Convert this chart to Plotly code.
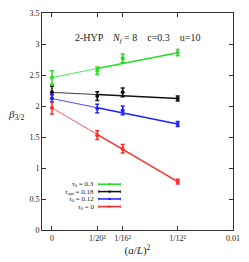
import plotly.graph_objects as go

# x positions: (a/L)^2
x_pts = [0.0, 1/20**2, 1/16**2, 1/12**2]
tick_vals = [0.0, 1/20**2, 1/16**2, 1/12**2, 0.01]
tick_text = ["0", "1/20²", "1/16²", "1/12²", "0.01"]
y_ticks = [0, 0.5, 1, 1.5, 2, 2.5, 3, 3.5]
y_tick_text = ["0", "0.5", "1", "1.5", "2", "2.5", "3", "3.5"]

names = ["<i>τ</i><sub>0</sub> = 0.3", "<i>τ</i><sub>opt</sub> = 0.18",
         "<i>τ</i><sub>0</sub> = 0.12", "<i>τ</i><sub>0</sub> = 0"]
colors = ["#22dd22", "#111111", "#2020ff", "#ff2a2a"]

# values at 0 (extrapolated), 1/20^2, 1/16^2, 1/12^2
vals = [
    [2.46, 2.57, 2.77, 2.86],
    [2.22, 2.16, 2.22, 2.12],
    [2.12, 1.96, 1.93, 1.71],
    [1.97, 1.53, 1.31, 0.78],
]
errs = [
    [0.11, 0.06, 0.07, 0.05],
    [0.10, 0.07, 0.07, 0.04],
    [0.06, 0.07, 0.07, 0.04],
    [0.10, 0.07, 0.07, 0.04],
]
# fitted line endpoints at x=0 and x=1/12^2
fit_ends = [
    [2.46, 2.86],
    [2.22, 2.12],
    [2.12, 1.71],
    [1.97, 0.78],
]

FONT = "Liberation Serif, Times New Roman, serif"

fig = go.Figure()
x0, x1 = x_pts[0], x_pts[3]
xm = x_pts[1]
for name, c, v, e, f in zip(names, colors, vals, errs, fit_ends):
    fm = f[0] + (f[1] - f[0]) * (xm - x0) / (x1 - x0)
    fig.add_trace(go.Scatter(x=[x0, xm], y=[f[0], fm], mode="lines",
                             line=dict(color=c, width=0.8),
                             showlegend=False, hoverinfo="skip"))
    fig.add_trace(go.Scatter(x=[xm, x1], y=[fm, f[1]], mode="lines",
                             line=dict(color=c, width=1.5),
                             showlegend=False, hoverinfo="skip"))
    fig.add_trace(go.Scatter(x=x_pts, y=v, mode="markers", name=name,
                             showlegend=False,
                             marker=dict(color=c, size=4, symbol="circle"),
                             error_y=dict(type="data", array=e, color=c,
                                          thickness=1.5, width=2)))

# gnuplot-style key: right-aligned text followed by a sample line
annotations = [
    dict(text="2-HYP    <i>N<sub>f</sub></i> = 8    c=0.3    u=10",
         xref="paper", yref="paper", x=0.5, y=0.92, showarrow=False,
         font=dict(size=10, family=FONT, color="#222")),
    dict(text="<i>β</i><sub>3/2</sub>", xref="paper", yref="paper",
         x=-0.19, y=0.53, showarrow=False, xanchor="left",
         font=dict(size=11, family=FONT, color="#222")),
]
shapes = []
key_rows = [0.211, 0.177, 0.143, 0.108]
kx_text, kx0, kx1 = 0.283, 0.297, 0.41
for name, c, ky in zip(names, colors, key_rows):
    annotations.append(dict(text=name, xref="paper", yref="paper", x=kx_text, y=ky,
                            xanchor="right", yanchor="middle", showarrow=False,
                            font=dict(size=7, family=FONT, color="#222")))
    shapes.append(dict(type="line", xref="paper", yref="paper", x0=kx0, x1=kx1,
                       y0=ky, y1=ky, line=dict(color=c, width=1.5)))
    for kx in (kx0, kx1):
        shapes.append(dict(type="line", xref="paper", yref="paper", x0=kx, x1=kx,
                           y0=ky - 0.006, y1=ky + 0.006, line=dict(color=c, width=1)))
    kc = (kx0 + kx1) / 2
    shapes.append(dict(type="rect", xref="paper", yref="paper",
                       x0=kc - 0.006, x1=kc + 0.006, y0=ky - 0.005, y1=ky + 0.005,
                       fillcolor=c, line=dict(width=0)))

fig.update_layout(
    width=249, height=262,
    margin=dict(l=42, r=12, t=9, b=25),
    paper_bgcolor="white", plot_bgcolor="white",
    font=dict(family=FONT, color="#222", size=9),
    showlegend=False,
    xaxis=dict(range=[-0.00055, 0.01], tickvals=tick_vals, ticktext=tick_text,
               ticks="inside", ticklen=4, tickcolor="#333", mirror="ticks",
               showline=True, linecolor="#333", linewidth=1, showgrid=False,
               zeroline=False, tickfont=dict(size=8),
               title=dict(text="(<i>a</i>/<i>L</i>)<sup>2</sup>", font=dict(size=11), standoff=3)),
    yaxis=dict(range=[0, 3.5], tickvals=y_ticks, ticktext=y_tick_text,
               ticks="inside", ticklen=4, tickcolor="#333", mirror="ticks",
               showline=True, linecolor="#333", linewidth=1, showgrid=False,
               zeroline=False, tickfont=dict(size=8)),
    annotations=annotations,
    shapes=shapes,
)

fig.write_html("out.html", config={"displayModeBar": False})
with open("out.html", encoding="utf-8") as fh:
    html = fh.read()
html = html.replace("<head>", "<head><style>html,body{margin:0;padding:0;overflow:hidden;}</style>", 1)
with open("out.html", "w", encoding="utf-8") as fh:
    fh.write(html)
